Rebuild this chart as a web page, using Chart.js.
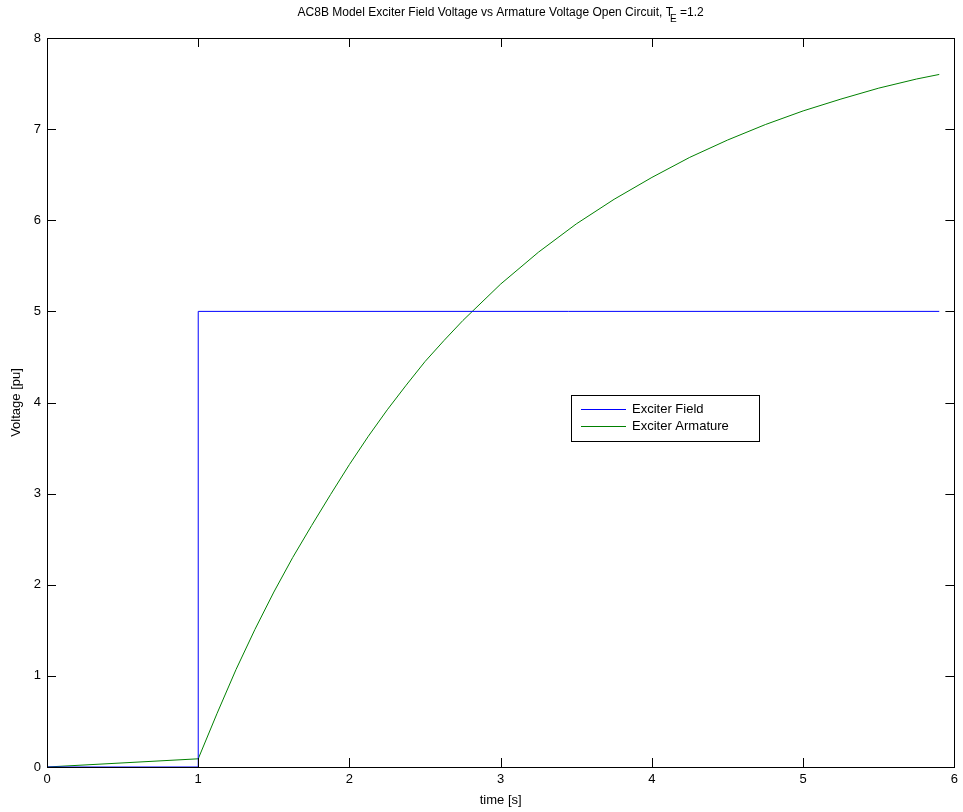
<!DOCTYPE html>
<html>
<head>
<meta charset="utf-8">
<script src="https://cdn.jsdelivr.net/npm/chart.js@4.4.0/dist/chart.umd.min.js"></script>
<style>
  html, body { margin: 0; padding: 0; background: #fff; }
  #wrap { width: 963px; height: 812px; }
</style>
</head>
<body>
<div id="wrap"><canvas id="exciter"></canvas></div>
<script>
// exciter field (step input)
const fieldTime = [0, 1, 1, 5.9];
const fieldVolt = [0, 0, 5, 5];

// exciter armature response
const armTime = [0, 1, 1.125, 1.25, 1.375, 1.5, 1.625, 1.75, 1.875, 2, 2.125, 2.25, 2.375, 2.5, 2.625, 2.75,
  3, 3.25, 3.5, 3.75, 4, 4.25, 4.5, 4.75, 5, 5.25, 5.5, 5.75, 5.9];
const armVolt = [0, 0.09, 0.59, 1.07, 1.51, 1.92, 2.3, 2.65, 2.99, 3.32, 3.63, 3.92, 4.19, 4.45, 4.68, 4.9,
  5.3, 5.65, 5.96, 6.23, 6.47, 6.69, 6.88, 7.05, 7.2, 7.33, 7.45, 7.55, 7.6];

const xTicks = [0, 1, 2, 3, 4, 5, 6];
const yTicks = [0, 1, 2, 3, 4, 5, 6, 7, 8];

const FONT = "'Liberation Sans', Arial, Helvetica, sans-serif";

function toPoints(xs, ys) {
  return xs.map((x, i) => ({ x: x, y: ys[i] }));
}

// box around the axes plus inward tick marks on all four sides
const axesBox = {
  id: "axesBox",
  afterDraw(chart) {
    const { ctx, chartArea: a, scales } = chart;
    const len = 9;
    ctx.save();
    ctx.strokeStyle = "#000";
    ctx.lineWidth = 1;
    ctx.beginPath();
    xTicks.forEach((v) => {
      const px = Math.round(scales.x.getPixelForValue(v)) + 0.5;
      ctx.moveTo(px, a.bottom);
      ctx.lineTo(px, a.bottom - len);
      ctx.moveTo(px, a.top);
      ctx.lineTo(px, a.top + len);
    });
    yTicks.forEach((v) => {
      const py = Math.round(scales.y.getPixelForValue(v)) + 0.5;
      ctx.moveTo(a.left, py);
      ctx.lineTo(a.left + len, py);
      ctx.moveTo(a.right, py);
      ctx.lineTo(a.right - len, py);
    });
    ctx.stroke();
    ctx.strokeRect(Math.round(a.left) + 0.5, Math.round(a.top) + 0.5,
      Math.round(a.right - a.left), Math.round(a.bottom - a.top));
    ctx.restore();
  },
};

// title with subscript E
const subTitle = {
  id: "subTitle",
  afterDraw(chart) {
    const { ctx, chartArea: a } = chart;
    const main = "AC8B Model Exciter Field Voltage vs Armature Voltage Open Circuit, T";
    const tail = " =1.2";
    ctx.save();
    ctx.fillStyle = "#000";
    ctx.textBaseline = "middle";
    ctx.font = "12px " + FONT;
    const w1 = ctx.measureText(main).width;
    const w3 = ctx.measureText(tail).width;
    ctx.font = "10px " + FONT;
    const w2 = ctx.measureText("E").width;
    const total = w1 + w2 - 3 + w3;
    let x = (a.left + a.right) / 2 - total / 2;
    const y = 13;
    ctx.font = "12px " + FONT;
    ctx.textAlign = "left";
    ctx.fillText(main, x, y);
    x += w1 - 3;
    ctx.font = "10px " + FONT;
    ctx.fillText("E", x, y + 6);
    x += w2;
    ctx.font = "12px " + FONT;
    ctx.fillText(tail, x, y);
    ctx.restore();
  },
};

const legendColors = ["#0000ff", "#008000"];

// MATLAB style legend box inside the axes
const boxLegend = {
  id: "boxLegend",
  afterDraw(chart) {
    const { ctx } = chart;
    const left = 571, top = 395, w = 188, h = 46;
    ctx.save();
    ctx.fillStyle = "#fff";
    ctx.fillRect(left, top, w, h);
    ctx.strokeStyle = "#000";
    ctx.lineWidth = 1;
    ctx.strokeRect(left + 0.5, top + 0.5, w, h);
    ctx.font = "13px " + FONT;
    ctx.textBaseline = "middle";
    ctx.textAlign = "left";
    chart.data.datasets.forEach((ds, i) => {
      const y = top + 14 + i * 17;
      ctx.strokeStyle = legendColors[i];
      ctx.beginPath();
      ctx.moveTo(left + 10, y + 0.5);
      ctx.lineTo(left + 55, y + 0.5);
      ctx.stroke();
      ctx.fillStyle = "#000";
      ctx.fillText(ds.label, left + 61, y);
    });
    ctx.restore();
  },
};

const config = {
  type: "line",
  data: {
    datasets: [
      {
        label: "Exciter Field",
        data: toPoints(fieldTime, fieldVolt),
        borderColor: legendColors[0],
        borderWidth: 1,
        pointRadius: 0,
        fill: false,
        tension: 0,
      },
      {
        label: "Exciter Armature",
        data: toPoints(armTime, armVolt),
        borderColor: legendColors[1],
        borderWidth: 1,
        pointRadius: 0,
        fill: false,
        tension: 0,
      },
    ],
  },
  options: {
    responsive: true,
    maintainAspectRatio: false,
    animation: false,
    layout: { padding: { top: 38, right: 7, left: 0, bottom: 0 } },
    plugins: {
      legend: { display: false },
      title: { display: false },
      tooltip: { enabled: false },
    },
    scales: {
      x: {
        type: "linear",
        min: 0,
        max: 6,
        afterBuildTicks: (s) => { s.ticks = xTicks.map((v) => ({ value: v })); },
        afterFit: (s) => { s.height = 45; },
        grid: { display: false, drawTicks: false },
        border: { display: false },
        ticks: { padding: 5, color: "#000", font: { family: FONT, size: 13 }, maxRotation: 0 },
        title: { display: true, text: "time [s]", color: "#000", font: { family: FONT, size: 13 }, padding: { bottom: 4 } },
      },
      y: {
        type: "linear",
        min: 0,
        max: 8,
        afterBuildTicks: (s) => { s.ticks = yTicks.map((v) => ({ value: v })); },
        afterFit: (s) => { s.width = 47; },
        grid: { display: false, drawTicks: false },
        border: { display: false },
        ticks: { padding: 6, color: "#000", font: { family: FONT, size: 13 } },
        title: { display: true, text: "Voltage [pu]", color: "#000", font: { family: FONT, size: 13 }, padding: { top: 9 } },
      },
    },
  },
  plugins: [axesBox, subTitle, boxLegend],
};

new Chart(document.getElementById("exciter"), config);
</script>
</body>
</html>
